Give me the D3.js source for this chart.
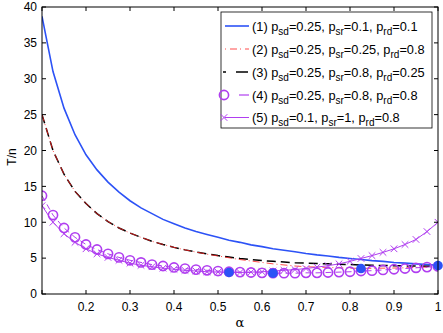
<!DOCTYPE html>
<html><head><meta charset="utf-8">
<script src="https://cdn.jsdelivr.net/npm/d3@7"></script>
<style>body{margin:0;background:#fff}svg{display:block;font-family:"Liberation Sans",Arial,sans-serif}</style>
</head><body><svg id="c" width="443" height="333"></svg>
<script>
const alphas = [0.1,0.125,0.15,0.175,0.2,0.225,0.25,0.275,0.3,0.325,0.35,0.375,0.4,0.425,0.45,0.475,0.5,0.525,0.55,0.575,0.6,0.625,0.65,0.675,0.7,0.725,0.75,0.775,0.8,0.825,0.85,0.875,0.9,0.925,0.95,0.975,1.0];
const s1 = [38.7,31.0,25.9,22.2,19.4,17.3,15.6,14.2,13.0,12.0,11.2,10.4,9.8,9.2,8.7,8.3,7.9,7.5,7.2,6.85,6.6,6.3,6.1,5.9,5.65,5.45,5.3,5.1,4.95,4.8,4.65,4.55,4.4,4.3,4.2,4.1,4.0];
const s2 = [25.0,20.0,16.7,14.3,12.6,11.2,10.1,9.2,8.5,7.9,7.35,6.9,6.5,6.15,5.85,5.55,5.3,5.05,4.8,4.6,4.4,4.2,4.05,3.9,3.8,3.75,3.7,3.65,3.6,3.58,3.58,3.6,3.62,3.66,3.7,3.75,3.8];
const s3 = [25.0,20.0,16.7,14.3,12.6,11.2,10.1,9.2,8.5,7.9,7.35,6.9,6.5,6.15,5.85,5.6,5.35,5.15,4.95,4.8,4.65,4.55,4.45,4.35,4.3,4.25,4.2,4.15,4.1,4.05,4.0,3.98,3.95,3.92,3.9,3.88,3.85];
const s4 = [13.7,11.0,9.2,7.9,6.9,6.2,5.6,5.1,4.7,4.4,4.1,3.9,3.7,3.55,3.4,3.3,3.2,3.1,3.05,3.0,2.95,2.9,2.9,2.9,2.95,2.95,3.0,3.05,3.1,3.2,3.25,3.35,3.45,3.55,3.65,3.75,3.85];
const s5 = [12.3,10.0,8.4,7.2,6.3,5.6,5.1,4.7,4.3,4.0,3.8,3.6,3.45,3.3,3.2,3.1,3.05,3.0,3.0,3.05,3.1,3.2,3.3,3.4,3.55,3.75,3.95,4.2,4.55,4.95,5.35,5.8,6.3,6.9,7.6,8.7,10.0];
const minAlpha = [0.525,0.625,0.825,1.0];
const minVal = [3.0,2.9,3.55,3.95];
const xTicks = [0.1,0.2,0.3,0.4,0.5,0.6,0.7,0.8,0.9,1.0];
const yTicks = [0,5,10,15,20,25,30,35,40];
const legendLabels = [
 ["(1) ",["p","sd","=0.25, "],["p","sr","=0.1, "],["p","rd","=0.1"]],
 ["(2) ",["p","sd","=0.25, "],["p","sr","=0.25, "],["p","rd","=0.8"]],
 ["(3) ",["p","sd","=0.25, "],["p","sr","=0.8, "],["p","rd","=0.25"]],
 ["(4) ",["p","sd","=0.25, "],["p","sr","=0.8, "],["p","rd","=0.8"]],
 ["(5) ",["p","sd","=0.1, "],["p","sr","=1, "],["p","rd","=0.8"]]
];

const svg = d3.select("#c");
const L=42,R=438,T=7,B=294;
const x = d3.scaleLinear().domain([0.1,1]).range([L,R]);
const y = d3.scaleLinear().domain([0,40]).range([B,T]);
const BLUE="#2c52f6", PURP="#b03ef0", RED="#ff2020";

svg.append("clipPath").attr("id","cp").append("rect").attr("x",L).attr("y",T).attr("width",R-L).attr("height",B-T);
const g = svg.append("g").attr("clip-path","url(#cp)");
const line = vals => d3.line().x((d,i)=>x(alphas[i])).y(d=>y(d))(vals);

g.append("path").attr("d",line(s1)).attr("fill","none").attr("stroke",BLUE).attr("stroke-width",1.6);
g.append("path").attr("d",line(s3)).attr("fill","none").attr("stroke","#000").attr("stroke-width",1.5).attr("stroke-dasharray","9,5");
g.append("path").attr("d",line(s2)).attr("fill","none").attr("stroke",RED).attr("stroke-width",0.8).attr("stroke-dasharray","7,3,1,3");
g.append("path").attr("d",line(s4)).attr("fill","none").attr("stroke",PURP).attr("stroke-width",1).attr("stroke-dasharray","6,4");
g.append("path").attr("d",line(s5)).attr("fill","none").attr("stroke",PURP).attr("stroke-width",1);
g.selectAll(".c4").data(s4).enter().append("circle").attr("cx",(d,i)=>x(alphas[i])).attr("cy",d=>y(d)).attr("r",4.6).attr("fill","none").attr("stroke",PURP).attr("stroke-width",1.6);
const xs=3.3;
g.selectAll(".x5").data(s5).enter().append("path").attr("d",(d,i)=>{const cx=x(alphas[i]),cy=y(d);return `M${cx-xs},${cy-xs}L${cx+xs},${cy+xs}M${cx-xs},${cy+xs}L${cx+xs},${cy-xs}`;}).attr("stroke",PURP).attr("stroke-width",1);
svg.selectAll(".m").data(minVal).enter().append("circle").attr("cx",(d,i)=>x(minAlpha[i])).attr("cy",d=>y(d)).attr("r",4.8).attr("fill",BLUE);

// frame
svg.append("rect").attr("x",L).attr("y",T).attr("width",R-L).attr("height",B-T).attr("fill","none").attr("stroke","#000").attr("stroke-width",1);
const tl=4;
xTicks.forEach(t=>{
  svg.append("line").attr("x1",x(t)).attr("x2",x(t)).attr("y1",B).attr("y2",B-tl).attr("stroke","#000");
  svg.append("line").attr("x1",x(t)).attr("x2",x(t)).attr("y1",T).attr("y2",T+tl).attr("stroke","#000");
  if(t>0.1) svg.append("text").attr("x",x(t)).attr("y",B+17).attr("text-anchor","middle").attr("font-size",12).text(t===1?"1":d3.format(".1f")(t));
});
yTicks.forEach(t=>{
  svg.append("line").attr("x1",L).attr("x2",L+tl).attr("y1",y(t)).attr("y2",y(t)).attr("stroke","#000");
  svg.append("line").attr("x1",R).attr("x2",R-tl).attr("y1",y(t)).attr("y2",y(t)).attr("stroke","#000");
  svg.append("text").attr("x",L-5).attr("y",y(t)+4.3).attr("text-anchor","end").attr("font-size",12).text(t);
});
svg.append("text").attr("x",240).attr("y",327).attr("text-anchor","middle").attr("font-size",13).attr("font-family","DejaVu Serif, serif").text("α");
svg.append("text").attr("transform","translate(16,157) rotate(-90)").attr("text-anchor","middle").attr("font-size",12).text("T/n");

// legend
const lg = svg.append("g");
lg.append("rect").attr("x",221).attr("y",12).attr("width",211).attr("height",116).attr("fill","#fff").attr("stroke","#000").attr("stroke-width",0.8);
const rowY=[26,49,72,95,117.5];
const lx0=225,lx1=249;
lg.append("line").attr("x1",lx0).attr("x2",lx1).attr("y1",rowY[0]).attr("y2",rowY[0]).attr("stroke",BLUE).attr("stroke-width",1.6);
lg.append("line").attr("x1",lx0).attr("x2",lx1).attr("y1",rowY[1]).attr("y2",rowY[1]).attr("stroke",RED).attr("stroke-width",0.8).attr("stroke-dasharray","1,4,7,3");
lg.append("line").attr("x1",lx0-2).attr("x2",lx1).attr("y1",rowY[2]).attr("y2",rowY[2]).attr("stroke","#000").attr("stroke-width",1.5).attr("stroke-dasharray","3,10,12");
lg.append("line").attr("x1",239).attr("x2",lx1).attr("y1",rowY[3]).attr("y2",rowY[3]).attr("stroke",PURP).attr("stroke-width",1.2);
lg.append("circle").attr("cx",224).attr("cy",rowY[3]).attr("r",4.6).attr("fill","none").attr("stroke",PURP).attr("stroke-width",1.6);
lg.append("line").attr("x1",lx0).attr("x2",lx1).attr("y1",rowY[4]).attr("y2",rowY[4]).attr("stroke",PURP).attr("stroke-width",1);
lg.append("path").attr("d",`M${224-xs},${rowY[4]-xs}L${224+xs},${rowY[4]+xs}M${224-xs},${rowY[4]+xs}L${224+xs},${rowY[4]-xs}`).attr("stroke",PURP).attr("stroke-width",1);
legendLabels.forEach((lab,i)=>{
  const t = lg.append("text").attr("x",252).attr("y",rowY[i]+4.5).attr("font-size",12.8);
  t.append("tspan").text(lab[0]);
  for(let k=1;k<lab.length;k++){
    t.append("tspan").text(lab[k][0]);
    t.append("tspan").attr("dy",4).attr("font-size",10).text(lab[k][1]);
    t.append("tspan").attr("dy",-4).text(lab[k][2]);
  }
});
</script></body></html>
